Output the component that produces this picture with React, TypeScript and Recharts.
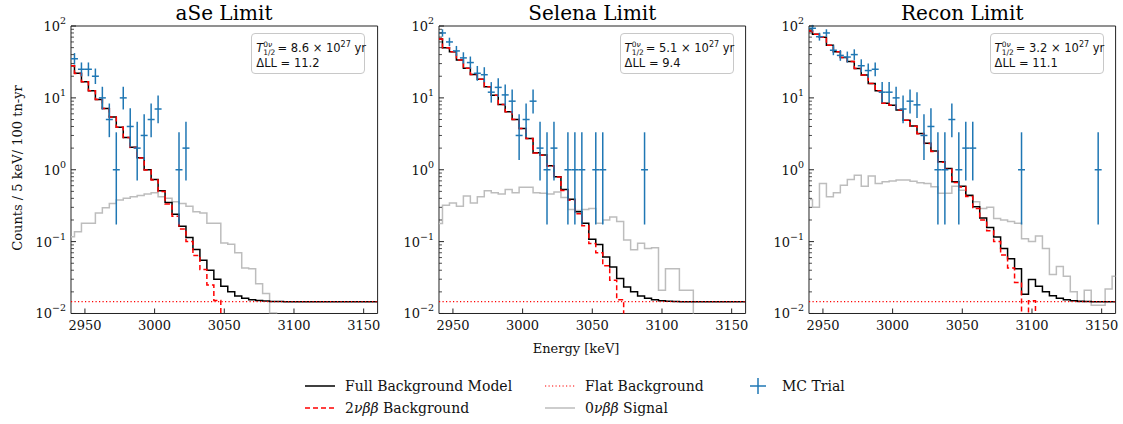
import React from 'react'
import {
  ComposedChart, Line, Scatter, ErrorBar, XAxis, YAxis,
  ReferenceLine, ReferenceArea,
} from 'recharts'

// bin positions of the model histograms (keV)
const energies = [
  2940, 2945, 2950, 2955, 2960, 2965, 2970, 2975, 2980, 2985, 2990, 2995, 3000, 3005, 3010,
  3015, 3020, 3025, 3030, 3035, 3040, 3045, 3050, 3055, 3060, 3065, 3070, 3075, 3080, 3085,
  3090, 3095, 3100, 3105, 3110, 3115, 3120, 3125, 3130, 3135, 3140, 3145, 3150, 3155, 3160,
]

const FLAT_BKG = 0.0146

// aSe
const aseFull = [
  28, 22, 16.8, 12.6, 9.5, 7.1, 5.4, 3.9, 2.8, 2.05, 1.47, 1.0, 0.73, 0.51, 0.35,
  0.24, 0.164, 0.114, 0.078, 0.055, 0.04, 0.03, 0.0239, 0.02, 0.0175, 0.0163, 0.0155, 0.0152, 0.0149, 0.0147,
  0.0147, 0.0146, 0.0146, 0.0146, 0.0146, 0.0146, 0.0146, 0.0146, 0.0146, 0.0146, 0.0146, 0.0146, 0.0146, 0.0146, 0.0146,
]
const ase2nbb = [
  27.9, 21.9, 16.8, 12.6, 9.5, 7.1, 5.4, 3.9, 2.8, 2.04, 1.46, 0.99, 0.72, 0.5, 0.335,
  0.225, 0.15, 0.1, 0.064, 0.041, 0.025, 0.0152, 0.0093, 0.0054, 0.0029, 0.0017, 0.0009, 0.0006, 0.0003, 0.0001,
  0.0001, 0.0001, 0.0001, 0.0001, 0.0001, 0.0001, 0.0001, 0.0001, 0.0001, 0.0001, 0.0001, 0.0001, 0.0001, 0.0001, 0.0001,
]
const aseSignal = [
  0.117, 0.137, 0.18, 0.18, 0.25, 0.296, 0.34, 0.38, 0.4, 0.42, 0.44, 0.46, 0.48, 0.42, 0.4,
  0.36, 0.34, 0.31, 0.26, 0.25, 0.18, 0.18, 0.096, 0.092, 0.07, 0.043, 0.042, 0.026, 0.019, 0.0102,
  0.006, 0.004, 0.003, 0.002, 0.0012, 0.0008, 0.0005, 0.0003, 0.0002, 0.0001, 0.0001, 0.0001, 0.0001, 0.0001, 0.0001,
]
const aseMcE = [2942.5, 2947.5, 2952.5, 2957.5, 2962.5, 2967.5, 2972.5, 2977.5, 2982.5, 2987.5, 2992.5, 2997.5, 3002.5, 3017.5, 3022.5]
const aseMcN = [35, 25, 25, 20, 10, 5, 1, 10, 4, 2, 3, 5, 7, 1, 2]

// Selena
const selFull = [
  66, 50, 44, 33.7, 25.8, 21.2, 18.1, 14.3, 10.9, 8.1, 6.4, 5.0, 3.76, 2.73, 1.72,
  1.6, 1.14, 0.8, 0.53, 0.39, 0.26, 0.18, 0.108, 0.091, 0.061, 0.0445, 0.0306, 0.0234, 0.02, 0.0175,
  0.0163, 0.0155, 0.015, 0.0148, 0.0147, 0.0146, 0.0146, 0.0146, 0.0146, 0.0146, 0.0146, 0.0146, 0.0146, 0.0146, 0.0146,
]
const sel2nbb = [
  65.9, 49.9, 44, 33.7, 25.8, 21.2, 18.1, 14.3, 10.9, 8.1, 6.4, 5.0, 3.75, 2.72, 1.71,
  1.59, 1.13, 0.79, 0.515, 0.375, 0.245, 0.166, 0.094, 0.07, 0.046, 0.029, 0.0155, 0.0088, 0.0054, 0.003,
  0.0017, 0.0009, 0.0004, 0.0002, 0.0001, 0.0001, 0.0001, 0.0001, 0.0001, 0.0001, 0.0001, 0.0001, 0.0001, 0.0001, 0.0001,
]
const selSignal = [
  0.179, 0.32, 0.345, 0.31, 0.43, 0.345, 0.42, 0.51, 0.48, 0.46, 0.53, 0.48, 0.57, 0.57, 0.48,
  0.47, 0.46, 0.49, 0.41, 0.28, 0.27, 0.28, 0.29, 0.18, 0.2, 0.22, 0.19, 0.105, 0.077, 0.095,
  0.08, 0.082, 0.021, 0.042, 0.042, 0.021, 0.021, 0.006, 0.004, 0.003, 0.002, 0.0015, 0.001, 0.0008, 0.0005,
]
const selMcE = [
  2942.5, 2947.5, 2952.5, 2957.5, 2962.5, 2967.5, 2972.5, 2977.5, 2982.5, 2987.5, 2992.5, 2997.5,
  3002.5, 3007.5, 3012.5, 3017.5, 3022.5, 3032.5, 3037.5, 3042.5, 3052.5, 3057.5, 3087.5,
]
const selMcN = [80, 60, 45, 36, 31, 22, 21, 12, 14, 11, 9, 3, 5, 9, 2, 1, 2, 1, 1, 1, 1, 1, 1]

// Recon
const recFull = [
  85, 77, 70, 54, 44, 36.6, 32, 25.7, 20.8, 15.9, 12.6, 8.4, 7.9, 6.8, 4.9,
  4.05, 3.2, 2.33, 1.82, 1.29, 1.04, 0.68, 0.59, 0.44, 0.305, 0.214, 0.157, 0.116, 0.08, 0.058,
  0.042, 0.0185, 0.0296, 0.024, 0.02, 0.0177, 0.0163, 0.0155, 0.015, 0.0148, 0.0147, 0.0146, 0.0146, 0.0146, 0.0146,
]
const rec2nbb = [
  84.9, 77, 70, 54, 44, 36.6, 32, 25.7, 20.8, 15.9, 12.6, 8.4, 7.9, 6.8, 4.9,
  4.03, 3.18, 2.31, 1.8, 1.27, 1.02, 0.665, 0.575, 0.425, 0.29, 0.2, 0.142, 0.1, 0.065, 0.043,
  0.027, 0.004, 0.015, 0.0094, 0.0054, 0.003, 0.0017, 0.0009, 0.0004, 0.0002, 0.0001, 0.0001, 0.0001, 0.0001, 0.0001,
]
const recSignal = [
  0.386, 0.3, 0.646, 0.42, 0.48, 0.61, 0.73, 0.84, 0.59, 0.82, 0.646, 0.68, 0.7, 0.72, 0.72,
  0.69, 0.66, 0.646, 0.58, 0.47, 0.47, 0.59, 0.52, 0.45, 0.36, 0.29, 0.3, 0.21, 0.2, 0.19,
  0.18, 0.11, 0.1, 0.12, 0.08, 0.035, 0.045, 0.033, 0.02, 0.0145, 0.021, 0.013, 0.013, 0.022, 0.033,
]
const recMcE = [
  2942.5, 2947.5, 2952.5, 2957.5, 2962.5, 2967.5, 2972.5, 2977.5, 2982.5, 2987.5, 2992.5, 2997.5,
  3002.5, 3007.5, 3012.5, 3017.5, 3022.5, 3027.5, 3032.5, 3037.5, 3042.5, 3047.5, 3052.5, 3057.5,
  3092.5, 3147.5,
]
const recMcN = [93, 71, 80, 46, 39, 37, 40, 28, 24, 25, 12, 12, 10, 7, 9, 8, 3, 4, 1, 1, 5, 1, 2, 2, 1, 1]

// Poisson (Gehrels) 1-sigma interval for each observed count: [low, high]
const poissonInterval: Record<number, [number, number]> = {
  1: [0.173, 3.32], 2: [0.71, 4.66], 3: [1.37, 5.94], 4: [2.09, 7.18], 5: [2.84, 8.35],
  7: [4.42, 10.78], 8: [5.24, 11.96], 9: [6.06, 13.12], 10: [6.9, 14.28], 11: [7.74, 15.4],
  12: [8.59, 16.57], 14: [10.3, 18.8], 20: [15.6, 25.6], 21: [16.5, 26.7], 22: [17.3, 27.8],
  24: [19.1, 30.0], 25: [20.0, 31.1], 28: [22.7, 34.4], 31: [25.5, 37.6], 35: [29.1, 42.0],
  36: [30.0, 43.1], 37: [30.95, 44.1], 39: [32.8, 46.3], 40: [33.7, 47.4], 45: [38.3, 52.8],
  46: [39.25, 53.8], 60: [52.3, 68.8], 71: [62.6, 80.5], 80: [71.1, 90.0], 93: [83.4, 103.7],
}

const xTicks = [2950, 3000, 3050, 3100, 3150]
const yTicks = [
  0.01, 0.02, 0.03, 0.04, 0.05, 0.06, 0.07, 0.08, 0.09,
  0.1, 0.2, 0.3, 0.4, 0.5, 0.6, 0.7, 0.8, 0.9,
  1, 2, 3, 4, 5, 6, 7, 8, 9,
  10, 20, 30, 40, 50, 60, 70, 80, 90, 100,
]

const panels = [
  { title: 'aSe Limit', full: aseFull, bb: ase2nbb, sig: aseSignal, mcE: aseMcE, mcN: aseMcN, t: '8.6', dll: '11.2', left: 70.7 },
  { title: 'Selena Limit', full: selFull, bb: sel2nbb, sig: selSignal, mcE: selMcE, mcN: selMcN, t: '5.1', dll: '9.4', left: 439 },
  { title: 'Recon Limit', full: recFull, bb: rec2nbb, sig: recSignal, mcE: recMcE, mcN: recMcN, t: '3.2', dll: '11.1', left: 809 },
]

const PLOT_W = 306.6
const PLOT_TOP = 26
const PLOT_H = 287.5
const AXIS_W = 60
const SERIF = '"DejaVu Serif", serif'
const SANS = '"DejaVu Sans", sans-serif'
const MC_BLUE = '#1f77b4'

const sup = (n: number) => (n < 0 ? '\u2212' + Math.abs(n) : String(n))

const YTick = (props: any) => {
  const { x, y, payload } = props
  const lg = Math.log10(payload.value)
  const exp = Math.round(lg)
  const major = Math.abs(lg - exp) < 1e-6
  const plotLeft = x + 4
  return (
    <g>
      <line x1={plotLeft} x2={plotLeft + (major ? 5 : 3)} y1={y} y2={y} stroke="#222" strokeWidth={major ? 1 : 0.8} />
      {major && (
        <text x={x - 1} y={y + 5} textAnchor="end" fontFamily={SERIF} fontSize={13} fill="#111">
          10<tspan dy={-7} fontSize={9.5}>{sup(exp)}</tspan>
        </text>
      )}
    </g>
  )
}

const XTick = (props: any) => {
  const { x, y, payload } = props
  return (
    <g>
      <line x1={x} x2={x} y1={y} y2={y - 5} stroke="#222" strokeWidth={1} />
      <text x={x} y={y + 17} textAnchor="middle" fontFamily={SERIF} fontSize={13} fill="#111">
        {payload.value}
      </text>
    </g>
  )
}

const NoMarker = () => <g />

function Panel({ p }: { p: (typeof panels)[number] }) {
  const rows = energies.map((e, i) => ({ e, full: p.full[i], bb: p.bb[i], sig: p.sig[i] }))
  const mc = p.mcE.map((e, i) => {
    const n = p.mcN[i]
    const [lo, hi] = poissonInterval[n]
    return { e, n, ex: 2.5, ey: [n - lo, hi - n] }
  })
  const width = AXIS_W + PLOT_W + 6
  return (
    <div style={{ position: 'absolute', left: p.left - AXIS_W, top: 0 }}>
      <ComposedChart
        width={width}
        height={424}
        data={rows}
        margin={{ top: PLOT_TOP, right: 6, left: 0, bottom: 424 - PLOT_TOP - PLOT_H - 30 }}
      >
        <XAxis
          dataKey="e"
          type="number"
          domain={[2940, 3160]}
          ticks={xTicks}
          interval={0}
          allowDataOverflow
          axisLine={false}
          tickLine={false}
          tickSize={0}
          tickMargin={0}
          height={30}
          tick={<XTick />}
        />
        <YAxis
          type="number"
          scale="log"
          domain={[0.01, 100]}
          ticks={yTicks}
          interval={0}
          allowDataOverflow
          axisLine={false}
          tickLine={false}
          tickSize={0}
          tickMargin={4}
          width={AXIS_W}
          tick={<YTick />}
        />
        <Line type="step" dataKey="sig" stroke="#bdbdbd" strokeWidth={1.5} dot={false} isAnimationActive={false} />
        <Line type="step" dataKey="full" stroke="#000" strokeWidth={1.5} dot={false} isAnimationActive={false} />
        <Line type="step" dataKey="bb" stroke="#ff0000" strokeWidth={1.5} strokeDasharray="5 3" dot={false} isAnimationActive={false} />
        <ReferenceLine y={FLAT_BKG} stroke="#ff0000" strokeWidth={1.3} strokeDasharray="1.2 2.3" />
        <Scatter data={mc} dataKey="n" shape={<NoMarker />} isAnimationActive={false}>
          <ErrorBar dataKey="ey" direction="y" width={0} stroke={MC_BLUE} strokeWidth={1.5} />
          <ErrorBar dataKey="ex" direction="x" width={0} stroke={MC_BLUE} strokeWidth={1.5} />
        </Scatter>
        <ReferenceArea x1={2940} x2={3160} y1={0.01} y2={100} fill="none" fillOpacity={0} stroke="#222" strokeWidth={1} ifOverflow="visible" />
      </ComposedChart>
      <div
        style={{
          position: 'absolute', left: AXIS_W, top: 0, width: PLOT_W, textAlign: 'center',
          fontFamily: SERIF, fontSize: 20, lineHeight: '26px', color: '#000',
        }}
      >
        {p.title}
      </div>
      <div
        style={{
          position: 'absolute', left: AXIS_W + PLOT_W - 126, top: 32.5, width: 114, height: 41,
          border: '1px solid #c8c8c8', borderRadius: 4, background: '#fff',
          fontFamily: SANS, fontSize: 11.5, color: '#111', boxSizing: 'border-box',
        }}
      >
        <div style={{ position: 'absolute', left: 4, top: 6, whiteSpace: 'nowrap' }}>
          <i>T</i>
          <span style={{ display: 'inline-block', verticalAlign: -4, fontSize: 7.5, lineHeight: '8px', marginRight: 2 }}>
            <span style={{ display: 'block' }}>0<i>ν</i></span>
            <span style={{ display: 'block' }}>1/2</span>
          </span>
          = {p.t} × 10<sup style={{ fontSize: 8 }}>27</sup> yr
        </div>
        <div style={{ position: 'absolute', left: 4, top: 22, whiteSpace: 'nowrap' }}>ΔLL = {p.dll}</div>
      </div>
    </div>
  )
}

function LegendLine({ x, y, color, dash, width = 1.5 }: { x: number; y: number; color: string; dash?: string; width?: number }) {
  return (
    <svg style={{ position: 'absolute', left: x, top: y - 5 }} width={30} height={10}>
      <line x1={0} x2={30} y1={5} y2={5} stroke={color} strokeWidth={width} strokeDasharray={dash} />
    </svg>
  )
}

function LegendText({ x, y, children }: { x: number; y: number; children: React.ReactNode }) {
  return (
    <div
      style={{
        position: 'absolute', left: x, top: y - 10, lineHeight: '20px', whiteSpace: 'nowrap',
        fontFamily: SERIF, fontSize: 14, color: '#111',
      }}
    >
      {children}
    </div>
  )
}

export default function App() {
  return (
    <div style={{ position: 'absolute', left: 0, top: 0, width: 1123, height: 424, background: '#fff', overflow: 'hidden' }}>
      {panels.map((p) => (
        <Panel key={p.title} p={p} />
      ))}
      <div
        style={{
          position: 'absolute', left: 17, top: 168, transform: 'translate(-50%, -50%) rotate(-90deg)',
          whiteSpace: 'nowrap', fontFamily: SERIF, fontSize: 13, color: '#111',
        }}
      >
        Counts / 5 keV/ 100 tn-yr
      </div>
      <div
        style={{
          position: 'absolute', left: 576, top: 348, transform: 'translate(-50%, -50%)',
          whiteSpace: 'nowrap', fontFamily: SERIF, fontSize: 13, color: '#111',
        }}
      >
        Energy [keV]
      </div>

      <LegendLine x={305} y={386} color="#000" />
      <LegendText x={345} y={386}>Full Background Model</LegendText>
      <LegendLine x={305} y={408} color="#ff0000" dash="5 3" />
      <LegendText x={345} y={408}>
        2<i>νββ</i> Background
      </LegendText>
      <LegendLine x={545} y={386} color="#ff0000" dash="1.2 2.3" width={1.2} />
      <LegendText x={585} y={386}>Flat Background</LegendText>
      <LegendLine x={545} y={408} color="#bdbdbd" />
      <LegendText x={585} y={408}>
        0<i>νββ</i> Signal
      </LegendText>
      <svg style={{ position: 'absolute', left: 749, top: 377 }} width={18} height={18}>
        <line x1={1} x2={17} y1={9} y2={9} stroke={MC_BLUE} strokeWidth={1.5} />
        <line x1={9} x2={9} y1={1} y2={17} stroke={MC_BLUE} strokeWidth={1.5} />
      </svg>
      <LegendText x={782} y={386}>MC Trial</LegendText>
    </div>
  )
}
